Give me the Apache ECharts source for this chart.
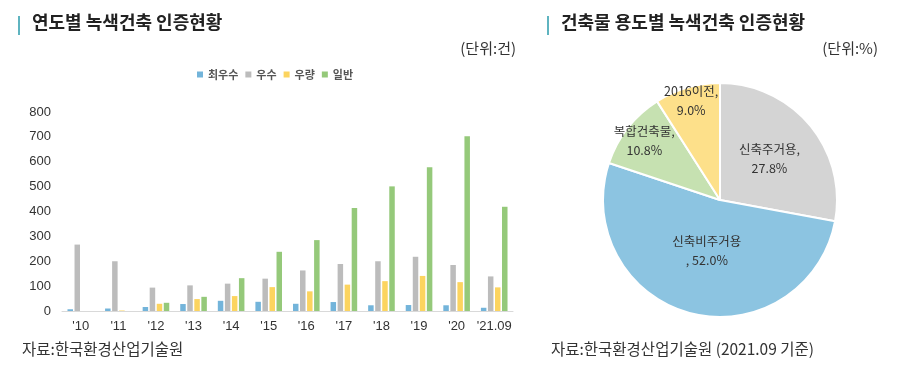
<!DOCTYPE html>
<html>
<head>
<meta charset="utf-8">
<script src="https://cdn.jsdelivr.net/npm/echarts@6/dist/echarts.min.js"></script>
<style>html,body{margin:0;padding:0;background:#fff;}#c{width:900px;height:378px;}</style>
</head>
<body>
<div id="c"></div>
<script>
const years = ["'10","'11","'12","'13","'14","'15","'16","'17","'18","'19","'20","'21.09"];
const seriesNames = ['최우수','우수','우량','일반'];
const best = [7, 10, 16, 28, 41, 37, 29, 36, 23, 24, 23, 13];
const excellent = [267, 200, 94, 103, 110, 130, 163, 189, 200, 218, 185, 139];
const good = [0, 2, 29, 48, 60, 96, 79, 106, 120, 141, 116, 95];
const general = [0, 0, 33, 57, 132, 238, 285, 414, 501, 578, 703, 419];
const yTicks = [0, 100, 200, 300, 400, 500, 600, 700, 800];

const pieNames = ['신축주거용,', '신축비주거용', '복합건축물,', '2016이전,'];
const pieValues = [27.8, 52.0, 10.8, 9.0];

const FONT = '"Noto Sans CJK KR", "Noto Sans", sans-serif';
const NUMFONT = '"Liberation Sans", Arial, sans-serif';
const barColors = ['#73b4da', '#bcbcbc', '#fcd45f', '#95c97a'];
const pieColors = ['#d4d4d4', '#8cc4e1', '#c6e1b1', '#fde08a'];
const pieLabelRatio = [0.55, 0.45, 0.82, 0.88];
const pieCenter = [720, 200];
const pieR = 117;

const chart = echarts.init(document.getElementById('c'), null, {renderer: 'canvas'});
const barData = [best, excellent, good, general];

const option = {
  animation: false,
  textStyle: {fontFamily: FONT},
  legend: {
    data: seriesNames,
    left: 192, top: 64,
    icon: 'rect', itemWidth: 6, itemHeight: 6, itemGap: 7,
    textStyle: {fontSize: 11, fontWeight: 'bold', color: '#555', fontFamily: FONT}
  },
  grid: {left: 62, right: 387, top: 112, bottom: 67},
  xAxis: {
    type: 'category', data: years,
    axisLine: {lineStyle: {color: '#d9d9d9', width: 1}},
    axisTick: {show: false},
    axisLabel: {interval: 0, color: '#333', fontSize: 13, margin: 9, fontFamily: NUMFONT}
  },
  yAxis: {
    type: 'value', min: yTicks[0], max: yTicks[yTicks.length - 1], interval: yTicks[1] - yTicks[0],
    axisLine: {show: false}, axisTick: {show: false}, splitLine: {show: false},
    axisLabel: {color: '#333', fontSize: 13, margin: 11, fontFamily: NUMFONT}
  },
  series: seriesNames.map((n, i) => ({
    name: n, type: 'bar', data: barData[i],
    barWidth: 5.5, barGap: '28%',
    itemStyle: {color: barColors[i]}
  })).concat([{
    type: 'pie',
    center: pieCenter, radius: pieR,
    startAngle: 90, clockwise: true,
    data: pieNames.map((n, i) => ({name: n, value: pieValues[i], itemStyle: {color: pieColors[i]}})),
    itemStyle: {borderColor: '#fff', borderWidth: 2},
    label: {
      position: 'inside',
      formatter: p => p.name + '\n' + (p.dataIndex === 1 ? ', ' : '') + p.value.toFixed(1) + '%',
      color: '#333', fontSize: 12.5, lineHeight: 19, fontFamily: FONT
    },
    labelLayout: function (params) {
      const i = params.dataIndex;
      let total = pieValues.reduce((a, b) => a + b, 0);
      let before = 0;
      for (let k = 0; k < i; k++) before += pieValues[k];
      const mid = (90 - (before + pieValues[i] / 2) / total * 360) * Math.PI / 180;
      const r = pieR * pieLabelRatio[i];
      return {
        x: pieCenter[0] + Math.cos(mid) * r,
        y: pieCenter[1] - Math.sin(mid) * r,
        align: 'center', verticalAlign: 'middle'
      };
    },
    labelLine: {show: false}
  }]),
  graphic: [
    {type: 'rect', shape: {x: 18, y: 16, width: 2, height: 19}, style: {fill: '#5fb4c0'}},
    {type: 'text', left: 32, top: 13, style: {text: '연도별 녹색건축 인증현황', font: 'bold 18px ' + FONT, fill: '#222'}},
    {type: 'text', right: 384, top: 41, style: {text: '(단위:건)', font: '15px ' + FONT, fill: '#333'}},
    {type: 'text', left: 22, top: 341, style: {text: '자료:한국환경산업기술원', font: '15.5px ' + FONT, fill: '#333'}},
    {type: 'rect', shape: {x: 547, y: 16, width: 2, height: 19}, style: {fill: '#5fb4c0'}},
    {type: 'text', left: 561, top: 13, style: {text: '건축물 용도별 녹색건축 인증현황', font: 'bold 18px ' + FONT, fill: '#222'}},
    {type: 'text', right: 22, top: 41, style: {text: '(단위:%)', font: '15px ' + FONT, fill: '#333'}},
    {type: 'text', left: 551, top: 341, style: {text: '자료:한국환경산업기술원 (2021.09 기준)', font: '15.5px ' + FONT, fill: '#333'}}
  ]
};
chart.setOption(option);
</script>
</body>
</html>
